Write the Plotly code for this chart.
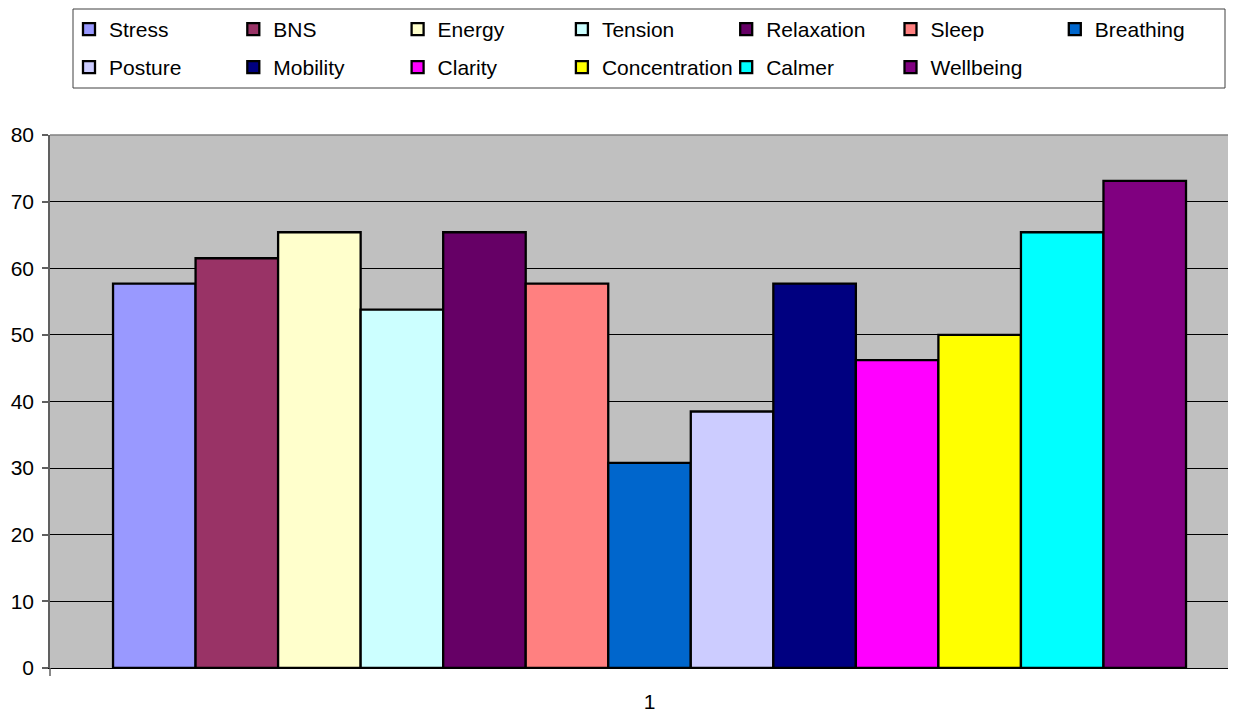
import plotly.graph_objects as go

categories = ["1"]
series_names = ["Stress", "BNS", "Energy", "Tension", "Relaxation", "Sleep", "Breathing",
                "Posture", "Mobility", "Clarity", "Concentration", "Calmer", "Wellbeing"]
series_values = [57.7, 61.5, 65.4, 53.8, 65.4, 57.7, 30.8,
                 38.5, 57.7, 46.2, 50.0, 65.4, 73.1]
series_colors = ["#9999FF", "#993366", "#FFFFCC", "#CCFFFF", "#660066", "#FF8080", "#0066CC",
                 "#CCCCFF", "#000080", "#FF00FF", "#FFFF00", "#00FFFF", "#800080"]
y_ticks = [0, 10, 20, 30, 40, 50, 60, 70, 80]

# page body has an 8px margin: work in screen coords and subtract it
OFF = 8
W, H = 1236 - OFF, 713 - OFF
ML, MR, MT, MB = 50 - OFF, 0, 135 - OFF, 713 - 668
FONT = "Arial, Liberation Sans, sans-serif"
FS = 21

fig = go.Figure()
for i, (name, val, col) in enumerate(zip(series_names, series_values, series_colors)):
    fig.add_trace(go.Bar(
        x=categories, y=[val], name=name,
        marker=dict(color=col, line=dict(color="black", width=2.3)),
        legend="legend" if i < 7 else "legend2",
    ))

plot_w = W - ML - MR
plot_h = H - MT - MB

def px_x(p):  # screen px -> paper x
    return (p - OFF - ML) / plot_w

def px_y(p):  # screen px -> paper y
    return (H - MB - (p - OFF)) / plot_h

legend_common = dict(
    orientation="h", xref="container", yref="container",
    xanchor="left", yanchor="top",
    bgcolor="rgba(0,0,0,0)", borderwidth=0,
    entrywidth=119.3, entrywidthmode="pixels",
    font=dict(family=FONT, size=FS, color="black"),
    traceorder="normal",
)

fig.update_layout(
    template="none",
    width=W, height=H,
    margin=dict(l=ML, r=MR, t=MT, b=MB, pad=0, autoexpand=False),
    paper_bgcolor="white", plot_bgcolor="#C0C0C0",
    barmode="group", bargap=0.0953, bargroupgap=0,
    font=dict(family=FONT, size=FS, color="black"),
    legend=dict(**legend_common, x=(69 - OFF) / W, y=1 - (9 - OFF) / H),
    legend2=dict(**legend_common, x=(69 - OFF) / W, y=1 - (47 - OFF) / H),
    xaxis=dict(
        type="category", range=[-0.5055, 0.4945], automargin=False,
        showgrid=False, zeroline=False,
        showline=True, linecolor="black", linewidth=1,
        ticks="", ticklabelstandoff=15,
        tickfont=dict(family=FONT, size=FS, color="black"),
    ),
    yaxis=dict(
        range=[0, 80], tickvals=y_ticks, automargin=False,
        showgrid=True, gridcolor="black", gridwidth=1,
        zeroline=False,
        showline=True, linecolor="#606060", linewidth=1.5,
        ticks="outside", ticklen=6, tickcolor="#606060", tickwidth=1.5,
        ticklabelstandoff=4,
        tickfont=dict(family=FONT, size=FS, color="black"),
    ),
    shapes=[
        dict(type="rect", xref="paper", yref="paper",
             x0=px_x(73), x1=px_x(1225), y0=px_y(88), y1=px_y(9),
             line=dict(color="#404040", width=1), fillcolor="rgba(0,0,0,0)", layer="below"),
        dict(type="line", xref="paper", yref="paper",
             x0=0, x1=1, y0=1, y1=1,
             line=dict(color="#808080", width=1.5)),
        dict(type="line", xref="paper", yref="paper",
             x0=0, x1=0, y0=0, y1=-8 / plot_h,
             line=dict(color="#606060", width=1.5)),
    ],
)

fig.write_html("out.html")
